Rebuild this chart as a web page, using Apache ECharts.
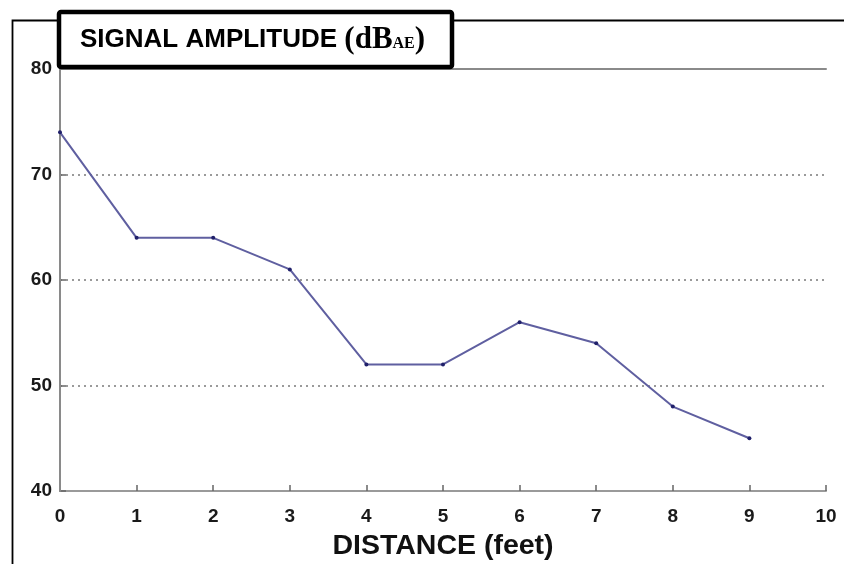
<!DOCTYPE html>
<html>
<head>
<meta charset="utf-8">
<script src="https://cdn.jsdelivr.net/npm/echarts@6/dist/echarts.min.js"></script>
<style>
  html, body { margin: 0; padding: 0; background: #fff; }
  #chart { width: 844px; height: 564px; }
</style>
</head>
<body>
<div id="chart"></div>
<script>
// Signal amplitude measured at increasing distance from the source
const distances = [0, 1, 2, 3, 4, 5, 6, 7, 8, 9];
const amplitudes = [74, 64, 64, 61, 52, 52, 56, 54, 48, 45];
const xTicks = [0, 1, 2, 3, 4, 5, 6, 7, 8, 9, 10];
const yTicks = [40, 50, 60, 70, 80];

const sansBold = { fontFamily: '"Liberation Sans", Arial, sans-serif', fontWeight: 'bold' };
const frameGray = '#8a8a8a';

const chart = echarts.init(document.getElementById('chart'), null, { renderer: 'canvas' });

chart.setOption({
  animation: false,
  backgroundColor: '#ffffff',
  grid: { left: 60, right: 18, top: 69, bottom: 73, containLabel: false, outerBoundsMode: 'none' },
  xAxis: [
    {
      type: 'value',
      min: xTicks[0],
      max: xTicks[xTicks.length - 1],
      interval: 1,
      position: 'bottom',
      name: 'DISTANCE (feet)',
      nameLocation: 'middle',
      nameGap: 41,
      nameTextStyle: Object.assign({ fontSize: 28.5, color: '#111' }, sansBold),
      axisLine: { show: true, lineStyle: { color: '#9a9a9a', width: 2 } },
      axisTick: { show: true, inside: true, length: 6, lineStyle: { color: '#666', width: 1.5 } },
      axisLabel: Object.assign({ fontSize: 19, color: '#1a1a1a', margin: 16 }, sansBold),
      splitLine: { show: false }
    },
    {
      type: 'value',
      min: xTicks[0],
      max: xTicks[xTicks.length - 1],
      position: 'top',
      z: 3,
      axisLine: { show: true, lineStyle: { color: frameGray, width: 2 } },
      axisTick: { show: false },
      axisLabel: { show: false },
      splitLine: { show: false }
    }
  ],
  yAxis: [
    {
      type: 'value',
      min: yTicks[0],
      max: yTicks[yTicks.length - 1],
      interval: 10,
      position: 'left',
      axisLine: { show: true, lineStyle: { color: frameGray, width: 2 } },
      axisTick: { show: true, inside: true, length: 6, lineStyle: { color: '#666', width: 1.5 } },
      axisLabel: Object.assign({ fontSize: 19, color: '#1a1a1a', margin: 8 }, sansBold),
      splitLine: { show: true, lineStyle: { color: '#7a7a7a', width: 1.6, type: [2, 4] } }
    },
    {
      type: 'value',
      min: yTicks[0],
      max: yTicks[yTicks.length - 1],
      position: 'right',
      z: 3,
      axisLine: { show: true, lineStyle: { color: frameGray, width: 2 } },
      axisTick: { show: false },
      axisLabel: { show: false },
      splitLine: { show: false }
    }
  ],
  series: [
    {
      type: 'line',
      data: distances.map((d, i) => [d, amplitudes[i]]),
      xAxisIndex: 0,
      yAxisIndex: 0,
      z: 5,
      lineStyle: { color: '#5f5fa0', width: 2 },
      symbol: 'circle',
      symbolSize: 4,
      itemStyle: { color: '#20206a', borderWidth: 0 }
    }
  ],
  graphic: [
    // outer frame lines
    {
      type: 'polyline',
      z: 50,
      shape: { points: [[12.5, 564], [12.5, 20.5], [844, 20.5]] },
      style: { stroke: '#000', lineWidth: 1.8, fill: null }
    },
    // title box
    {
      type: 'rect',
      z: 60,
      shape: { x: 59, y: 12, width: 393, height: 55, r: 2 },
      style: { fill: '#fff', stroke: '#000', lineWidth: 4.5 }
    },
    {
      type: 'text',
      z: 61,
      x: 80,
      y: 56,
      style: {
        text: '{a|SIGNAL AMPLITUDE }{b|(dB}{s|AE}{b|)}',
        verticalAlign: 'bottom',
        rich: {
          a: { fontFamily: '"Liberation Sans", Arial, sans-serif', fontWeight: 'bold', fontSize: 26, fill: '#000', verticalAlign: 'bottom', lineHeight: 32, padding: [0, 0, 3, 0] },
          b: { fontFamily: '"Liberation Serif", "Times New Roman", serif', fontWeight: 'bold', fontSize: 31, fill: '#000', verticalAlign: 'bottom', lineHeight: 32, padding: [0, 0, 1, 0] },
          s: { fontFamily: '"Liberation Serif", "Times New Roman", serif', fontWeight: 'bold', fontSize: 16, fill: '#000', verticalAlign: 'bottom', lineHeight: 32, padding: [0, 0, 4, 0] }
        }
      }
    }
  ]
});
</script>
</body>
</html>
